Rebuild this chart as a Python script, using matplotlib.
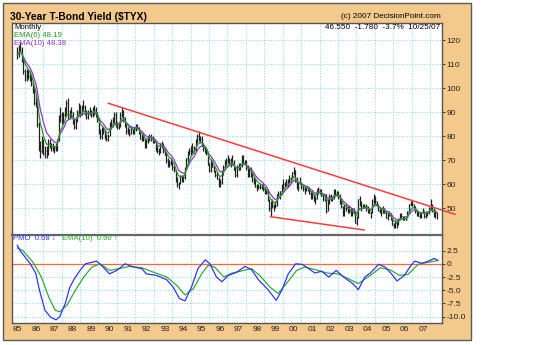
import numpy as np
import pandas as pd
import matplotlib
matplotlib.use('Agg')
import matplotlib.pyplot as plt
from matplotlib.patches import Rectangle

plt.rcParams['font.family'] = ['Liberation Sans', 'DejaVu Sans']

# monthly $TYX bars (yield x 10), Jan 1985 .. Oct 2007, one row per year
high = [
    117, 118, 119, 117, 113, 108, 108, 108, 107, 106, 103, 100,
    97, 95, 86, 78, 80, 79, 76, 76, 79, 79, 77, 77,
    76, 77, 79, 89, 92, 90, 90, 92, 95, 96, 91, 92,
    90, 87, 88, 91, 94, 93, 93, 95, 93, 91, 91, 92,
    91, 92, 93, 92, 90, 87, 83, 84, 84, 83, 81, 81,
    86, 87, 88, 90, 90, 86, 86, 90, 92, 91, 88, 85,
    84, 83, 84, 83, 84, 85, 85, 84, 82, 81, 81, 79,
    79, 80, 81, 81, 80, 79, 78, 76, 75, 77, 78, 77,
    75, 73, 71, 70, 71, 70, 68, 66, 63, 61, 64, 64,
    64, 67, 71, 74, 75, 76, 77, 76, 79, 81, 82, 80,
    80, 77, 76, 75, 73, 69, 70, 70, 68, 66, 65, 63,
    62, 66, 68, 70, 71, 72, 71, 71, 72, 70, 67, 68,
    69, 69, 72, 72, 70, 70, 68, 67, 67, 65, 63, 62,
    60, 60, 60, 60, 60, 59, 58, 58, 54, 53, 54, 52,
    53, 56, 57, 57, 60, 62, 61, 62, 62, 64, 63, 65,
    67, 66, 63, 61, 63, 61, 60, 59, 59, 59, 59, 57,
    57, 56, 55, 58, 59, 58, 58, 56, 56, 56, 54, 56,
    56, 55, 58, 58, 57, 57, 56, 54, 51, 52, 52, 51,
    51, 50, 50, 50, 49, 47, 54, 55, 53, 52, 52, 52,
    51, 50, 49, 54, 56, 55, 53, 52, 50, 50, 51, 50,
    49, 48, 49, 48, 46, 44, 45, 45, 46, 48, 48, 47,
    47, 47, 49, 52, 53, 53, 52, 51, 49, 49, 48, 48,
    50, 49, 49, 49, 50.5, 54, 52, 50, 49.5, 48.5,
]
low = [
    112, 113, 115, 111, 106, 103, 103, 104, 103, 101, 98, 93,
    92, 84, 74, 71, 73, 72, 71, 71, 72, 75, 74, 74,
    73, 74, 74, 78, 86, 85, 85, 88, 89, 87, 87, 88,
    85, 83, 83, 86, 89, 88, 89, 91, 89, 87, 87, 89,
    88, 88, 89, 88, 86, 81, 79, 79, 81, 79, 78, 78,
    80, 83, 84, 85, 84, 83, 83, 84, 88, 86, 84, 81,
    81, 80, 81, 81, 81, 82, 83, 81, 79, 78, 78, 75,
    75, 77, 78, 78, 77, 77, 74, 73, 72, 73, 75, 73,
    72, 69, 67, 67, 68, 66, 65, 61, 59, 58, 60, 61,
    61, 62, 66, 69, 72, 72, 73, 73, 74, 77, 78, 77,
    76, 74, 73, 72, 68, 65, 65, 67, 65, 63, 62, 59,
    59, 60, 64, 66, 68, 69, 68, 67, 68, 66, 63, 63,
    66, 66, 67, 69, 68, 66, 63, 63, 63, 61, 60, 59,
    57, 58, 58, 58, 57, 56, 56, 53, 49, 47, 50, 49,
    50, 51, 55, 54, 56, 58, 59, 59, 59, 60, 61, 62,
    64, 61, 58, 57, 60, 58, 57, 56, 57, 57, 56, 54,
    54, 53, 52, 54, 56, 56, 55, 53, 53, 48, 49, 52,
    53, 53, 54, 55, 55, 54, 52, 50, 47, 47, 49, 48,
    48, 47, 47, 48, 44, 43, 46, 51, 49, 50, 50, 49,
    48, 48, 46, 48, 52, 52, 51, 49, 48, 47, 48, 48,
    46, 45, 47, 45, 43, 42, 42, 42, 43, 45, 46, 45,
    45, 45, 46, 48, 51, 51, 50, 48, 47, 47, 46, 46,
    48, 46, 46, 47, 47.5, 49.5, 48.5, 46.5, 46, 45.5,
]
close = [
    114, 117, 116, 112, 107, 105, 106, 105, 105, 102, 99, 94,
    94, 85, 76, 74, 78, 73, 74, 72, 77, 76, 75, 75,
    75, 76, 78, 88, 89, 86, 89, 90, 94, 89, 89, 90,
    86, 84, 87, 90, 92, 89, 91, 92, 90, 88, 90, 90,
    89, 91, 91, 89, 87, 82, 80, 83, 82, 80, 79, 80,
    85, 85, 86, 89, 85, 84, 85, 89, 90, 88, 85, 82,
    83, 81, 83, 82, 83, 84, 84, 81, 79, 80, 79, 76,
    78, 79, 80, 79, 78, 78, 75, 74, 74, 76, 76, 74,
    72, 70, 69, 69, 70, 67, 66, 62, 60, 60, 63, 63,
    63, 66, 71, 73, 74, 76, 74, 75, 78, 80, 79, 79,
    77, 75, 74, 73, 68, 66, 69, 67, 65, 64, 62, 60,
    61, 65, 67, 69, 70, 69, 70, 70, 69, 66, 64, 66,
    68, 68, 71, 69, 69, 67, 63, 66, 64, 62, 61, 59,
    59, 59, 59, 59, 58, 56, 57, 53, 50, 52, 51, 51,
    51, 56, 56, 57, 58, 60, 61, 61, 61, 62, 63, 65,
    66, 61, 59, 59, 60, 59, 58, 57, 59, 58, 56, 55,
    56, 53, 54, 58, 58, 57, 55, 54, 55, 49, 53, 55,
    54, 54, 58, 56, 56, 55, 53, 51, 48, 50, 50, 48,
    49, 48, 48, 48, 44, 46, 54, 52, 50, 51, 51, 51,
    49, 48, 48, 53, 54, 53, 51, 49, 49, 48, 50, 48,
    46, 47, 48, 45, 43, 42, 44, 43, 45, 47, 47, 45,
    47, 45, 49, 52, 52, 52, 51, 49, 48, 47, 46, 48,
    49.2, 46.8, 48.4, 48.1, 50.1, 51.2, 49.1, 48.3, 48.3, 46.55,
]

# PMO and its 10-period EMA (decimal year, value)
pmo_t = [1985.0, 1985.15, 1985.7, 1986.0, 1986.2, 1986.5, 1986.8, 1987.1, 1987.3,
         1987.6, 1987.85, 1988.1, 1988.4, 1988.7, 1989.3, 1989.65, 1990.0, 1990.4,
         1990.85, 1991.3, 1991.75, 1992.0, 1992.55, 1993.1, 1993.45, 1993.8, 1994.1,
         1994.45, 1994.8, 1995.2, 1995.45, 1995.8, 1996.1, 1996.45, 1996.9, 1997.35,
         1997.7, 1998.1, 1998.55, 1999.05, 1999.35, 1999.7, 2000.1, 2000.45, 2000.8,
         2001.15, 2001.5, 2001.9, 2002.3, 2002.7, 2003.2, 2003.5, 2003.85, 2004.15,
         2004.6, 2004.95, 2005.3, 2005.6, 2006.0, 2006.3, 2006.55, 2006.95, 2007.3,
         2007.6, 2007.81]
pmo = [3.5, 2.5, 0.0, -1.8, -5.0, -8.8, -10.1, -10.6, -10.0,
       -7.5, -4.4, -2.8, -1.25, 0.0, 0.5, -0.6, -1.9, -1.25,
       0.0, -0.6, -0.9, -1.9, -2.2, -3.0, -4.4, -6.6, -7.0,
       -4.4, -0.9, 0.75, 0.0, -2.5, -3.4, -2.2, -1.6, -0.5,
       -1.1, -3.1, -4.7, -6.9, -5.0, -1.9, 0.0, -0.1, -0.9,
       -1.75, -1.4, -2.5, -1.25, -2.5, -3.75, -4.9, -2.5, -1.75,
       -0.1, -0.6, -1.9, -3.25, -2.2, -0.6, 0.5, 0.1, 0.5,
       1.0, 0.68]
sig_t = [1985.0, 1985.3, 1985.85, 1986.3, 1986.7, 1987.05, 1987.3, 1987.7, 1988.1,
         1988.6, 1989.05, 1989.5, 1990.0, 1990.55, 1991.1, 1991.75, 1992.4, 1993.1,
         1993.65, 1994.1, 1994.55, 1995.0, 1995.35, 1995.7, 1996.2, 1996.65, 1997.1,
         1997.7, 1998.15, 1998.7, 1999.15, 1999.6, 2000.15, 2000.6, 2001.15, 2001.8,
         2002.4, 2002.95, 2003.5, 2004.15, 2004.7, 2005.2, 2005.75, 2006.2, 2006.75,
         2007.3, 2007.81]
sig = [3.0, 2.5, 0.3, -2.5, -6.25, -8.75, -9.1, -7.8, -5.3,
       -2.5, -0.6, 0.0, -1.25, -0.9, -0.5, -0.75, -1.6, -2.5,
       -4.1, -5.9, -4.7, -1.9, -0.3, -0.6, -2.5, -1.75, -1.4,
       -0.9, -2.2, -4.4, -5.6, -3.75, -1.25, -0.6, -1.1, -1.75,
       -1.9, -2.8, -3.75, -2.2, -0.75, -1.1, -2.2, -2.0, -0.1,
       0.3, 0.6]

# trend lines across the highs and the lows
upper_t, upper_v = [1989.94, 2008.75], [93.7, 47.5]
lower_t, lower_v = [1998.74, 2003.81], [46.5, 41.0]

price_ticks = [50, 60, 70, 80, 90, 100, 110, 120]
pmo_ticks = [2.5, 0, -2.5, -5.0, -7.5, -10.0]
pmo_labels = ['2.5', '0', '-2.5', '-5.0', '-7.5', '-10.0']
years = list(range(1985, 2008))

dates = pd.date_range('1985-01-01', periods=len(close), freq='MS')
t = dates.year + (dates.month - 1) / 12.0
ema6 = pd.Series(close).ewm(span=6, adjust=False).mean()
ema10 = pd.Series(close).ewm(span=10, adjust=False).mean()

W, H = 552, 345


def fx(x):
    return x / W


def fy(y):
    return 1 - y / H


fig = plt.figure(figsize=(W / 100, H / 100), dpi=100)
fig.patch.set_facecolor('white')
fig.patches.append(Rectangle((fx(3), fy(340)), fx(468), 337 / H, transform=fig.transFigure,
                             facecolor='#F4C98C', edgecolor='#5A5A5A', lw=1.0, zorder=-5))

ax = fig.add_axes([fx(12), fy(235), fx(430), 212 / H])
pm = fig.add_axes([fx(12), fy(323), fx(430), 88 / H], sharex=ax)

grid_kw = dict(color='#8FDDEA', lw=0.8, linestyle=(0, (1, 1.5)))
for a in (ax, pm):
    a.set_facecolor('white')
    a.set_xlim(1984.71, 2008.04)
    a.set_xticks(years)
    a.set_xticks([y + 0.4 for y in years], minor=True)
    a.grid(True, which='minor', axis='x', **grid_kw)
    a.grid(True, which='major', axis='y', **grid_kw)
    a.yaxis.tick_right()
    a.tick_params(axis='y', length=2, width=0.6, pad=1, labelsize=6, colors='#222222')
    a.tick_params(axis='x', which='both', length=0, labelsize=6, colors='#222222', pad=2)
    for s in a.spines.values():
        s.set_color('#555555')
        s.set_linewidth(1.0)
    a.set_axisbelow(True)

# price bars
ax.vlines(t, low, high, color='#222222', lw=0.9)
ax.hlines(close, t, t + 0.04, color='#222222', lw=0.6)
ax.plot(t, ema10, color='#9933CC', lw=0.9)
ax.plot(t, ema6, color='#229922', lw=0.9)
ax.plot(upper_t, upper_v, color='#FF3B3B', lw=1.1, clip_on=False)
ax.plot(lower_t, lower_v, color='#FF3B3B', lw=1.1)
ax.set_ylim(38.9, 127.1)
ax.set_yticks(price_ticks)
ax.tick_params(axis='x', labelbottom=False)

# momentum panel
pm.axhline(0, color='#FF6633', lw=0.9)
pm.plot(sig_t, sig, color='#33AA33', lw=0.9)
pm.plot(pmo_t, pmo, color='#3333FF', lw=0.9)
pm.set_ylim(-11.2, 5.45)
pm.set_yticks(pmo_ticks)
pm.set_yticklabels(pmo_labels)
pm.set_xticklabels([f'{y % 100:02d}' for y in years])
pm.spines['top'].set_linewidth(1.6)
pm.spines['top'].set_color('#666666')

# titles and readouts
fig.text(fx(10), fy(17.5), '30-Year T-Bond Yield (\\$TYX)', fontsize=7.4, fontweight='bold',
         va='center', ha='left')
fig.text(fx(441), fy(17), '(c) 2007 DecisionPoint.com', fontsize=5.9, va='center', ha='right')
fig.text(fx(440), fy(27.5), '46.550  -1.780  -3.7%  10/25/07', fontsize=5.9, va='center', ha='right')
fig.text(fx(14), fy(27.5), 'Monthly', fontsize=5.6, va='center', ha='left')
fig.text(fx(14), fy(35.5), 'EMA(6) 48.19', fontsize=5.6, va='center', ha='left', color='#229922')
fig.text(fx(14), fy(43.5), 'EMA(10) 48.38', fontsize=5.6, va='center', ha='left', color='#9933CC')
fig.text(fx(13), fy(238.5), 'PMO  0.68 \u2193', fontsize=5.6, va='center', ha='left', color='#3333FF')
fig.text(fx(62), fy(238.5), 'EMA(10)  0.60 \u2191', fontsize=5.6, va='center', ha='left', color='#22AA22')

fig.savefig('out.png', dpi=100)
